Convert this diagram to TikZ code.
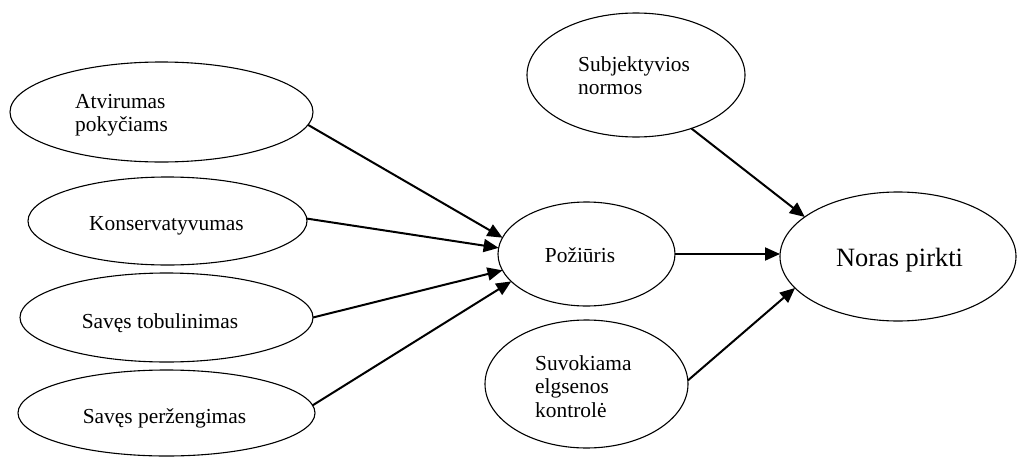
\documentclass[tikz,border=0pt]{standalone}
\usepackage{fontspec}
\setmainfont{Liberation Serif}
\usetikzlibrary{arrows.meta,shapes.geometric}
\tikzset{
  oval/.style={draw, ellipse, line width=1.1pt, inner sep=0pt, outer sep=0pt},
  arr/.style={line width=2pt, -{Triangle[length=15pt,width=13pt]}},
  lbl/.style={font=\fontsize{21.4}{23.5}\selectfont, inner sep=0pt, align=left},
  biglbl/.style={font=\fontsize{26.4}{30}\selectfont, inner sep=0pt},
}
\begin{document}
\begin{tikzpicture}[x=1pt,y=-1pt]
\useasboundingbox (0,0) rectangle (1018,458);
% ellipses
\node[oval, minimum width=303pt, minimum height=100pt] (atv) at (161.5,112) {};
\node[oval, minimum width=279pt, minimum height=88pt] (kon) at (167.5,221) {};
\node[oval, minimum width=293pt, minimum height=89pt] (tob) at (166.5,317.5) {};
\node[oval, minimum width=297pt, minimum height=86pt] (per) at (166.5,413) {};
\node[oval, minimum width=177pt, minimum height=104pt] (poz) at (586.5,254) {};
\node[oval, minimum width=218pt, minimum height=124pt] (sub) at (636,75) {};
\node[oval, minimum width=236pt, minimum height=129pt] (nor) at (898,256.5) {};
\node[oval, minimum width=203pt, minimum height=128pt] (suv) at (586.5,384) {};
% texts (base anchor = baseline of the last line)
\node[lbl, anchor=base west] (atvt) at (75,131.5) {Atvirumas\\pokyčiams};
\node[lbl, anchor=base] (kont) at (166.5,230) {Konservatyvumas};
\node[lbl, anchor=base] (tobt) at (160,328) {Savęs tobulinimas};
\node[lbl, anchor=base] (pert) at (164.5,423) {Savęs peržengimas};
\node[lbl, anchor=base west] (subt) at (578,94.5) {Subjektyvios\\normos};
\node[lbl, anchor=base] (pozt) at (580,262) {Požiūris};
\node[lbl, anchor=base west] (suvt) at (535,417) {Suvokiama\\elgsenos\\kontrolė};
\node[biglbl, anchor=base] (nort) at (899.5,266) {Noras pirkti};
% arrows
\draw[arr] (atv.-5) -- (poz.169);
\draw[arr] (kon.1.6) -- (poz.176);
\draw[arr] (tob.0) -- (poz.191);
\draw[arr] (per.3) -- (poz.200);
\draw[arr] (poz.east) -- (poz.east -| nor.west);
\draw[arr] (sub.-44.5) -- (nor.157);
\draw[arr] (suv.2.5) -- (nor.197);
\end{tikzpicture}
\end{document}
